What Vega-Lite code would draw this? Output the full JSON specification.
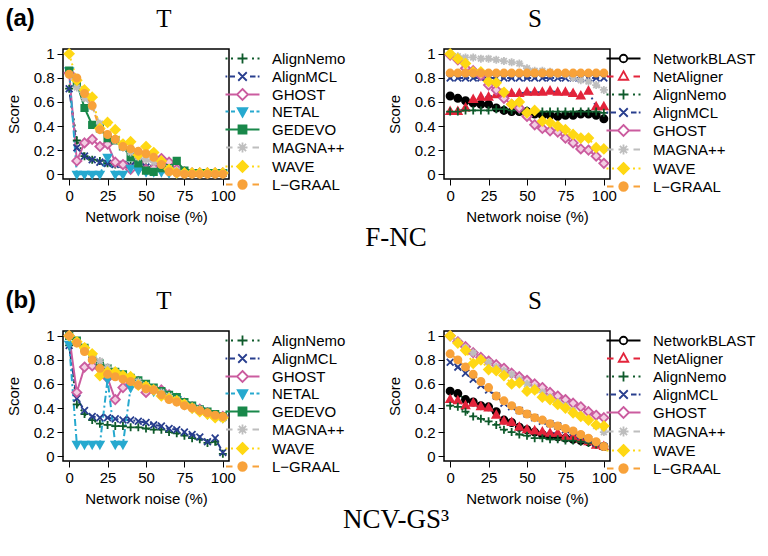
{
"$schema": "https://vega.github.io/schema/vega-lite/v6.json",
"background": "white",
"padding": 5,
"datasets": {
"aT": [
{"m":"AlignNemo","x":0,"y":0.71},{"m":"AlignNemo","x":5,"y":0.28},{"m":"AlignNemo","x":10,"y":0.15},{"m":"AlignNemo","x":15,"y":0.12},{"m":"AlignNemo","x":20,"y":0.11},{"m":"AlignNemo","x":25,"y":0.09},{"m":"AlignNemo","x":30,"y":0.08},{"m":"AlignNemo","x":35,"y":0.08},{"m":"AlignNemo","x":40,"y":0.07},{"m":"AlignNemo","x":45,"y":0.06},{"m":"AlignNemo","x":50,"y":0.06},{"m":"AlignNemo","x":55,"y":0.05},{"m":"AlignNemo","x":60,"y":0.04},{"m":"AlignNemo","x":65,"y":0.03},{"m":"AlignNemo","x":70,"y":0.02},{"m":"AlignNemo","x":75,"y":0.01},{"m":"AlignNemo","x":80,"y":0.01},{"m":"AlignNemo","x":85,"y":0.01},{"m":"AlignNemo","x":90,"y":0.01},{"m":"AlignNemo","x":95,"y":0.01},{"m":"AlignNemo","x":100,"y":0.01},
{"m":"AlignMCL","x":0,"y":0.71},{"m":"AlignMCL","x":5,"y":0.22},{"m":"AlignMCL","x":10,"y":0.15},{"m":"AlignMCL","x":15,"y":0.12},{"m":"AlignMCL","x":20,"y":0.10},{"m":"AlignMCL","x":25,"y":0.09},{"m":"AlignMCL","x":30,"y":0.08},{"m":"AlignMCL","x":35,"y":0.08},{"m":"AlignMCL","x":40,"y":0.07},{"m":"AlignMCL","x":45,"y":0.07},{"m":"AlignMCL","x":50,"y":0.06},{"m":"AlignMCL","x":55,"y":0.05},{"m":"AlignMCL","x":60,"y":0.05},{"m":"AlignMCL","x":65,"y":0.04},{"m":"AlignMCL","x":70,"y":0.03},{"m":"AlignMCL","x":75,"y":0.02},{"m":"AlignMCL","x":80,"y":0.01},{"m":"AlignMCL","x":85,"y":0.01},{"m":"AlignMCL","x":90,"y":0.01},{"m":"AlignMCL","x":95,"y":0.01},{"m":"AlignMCL","x":100,"y":0.01},
{"m":"GHOST","x":0,"y":0.84},{"m":"GHOST","x":5,"y":0.11},{"m":"GHOST","x":10,"y":0.26},{"m":"GHOST","x":15,"y":0.29},{"m":"GHOST","x":20,"y":0.23},{"m":"GHOST","x":25,"y":0.25},{"m":"GHOST","x":30,"y":0.10},{"m":"GHOST","x":35,"y":0.08},{"m":"GHOST","x":40,"y":0.04},{"m":"GHOST","x":45,"y":0.18},{"m":"GHOST","x":50,"y":0.04},{"m":"GHOST","x":55,"y":0.05},{"m":"GHOST","x":60,"y":0.13},{"m":"GHOST","x":65,"y":0.10},{"m":"GHOST","x":70,"y":0.04},{"m":"GHOST","x":75,"y":0.02},{"m":"GHOST","x":80,"y":0.01},{"m":"GHOST","x":85,"y":0.01},{"m":"GHOST","x":90,"y":0.01},{"m":"GHOST","x":95,"y":0.01},{"m":"GHOST","x":100,"y":0.01},
{"m":"NETAL","x":0,"y":0.86},{"m":"NETAL","x":5,"y":0.0},{"m":"NETAL","x":10,"y":0.0},{"m":"NETAL","x":15,"y":0.0},{"m":"NETAL","x":20,"y":0.0},{"m":"NETAL","x":25,"y":0.14},{"m":"NETAL","x":30,"y":0.0},{"m":"NETAL","x":35,"y":0.0},{"m":"NETAL","x":40,"y":0.05},{"m":"NETAL","x":45,"y":0.03},{"m":"NETAL","x":50,"y":0.02},{"m":"NETAL","x":55,"y":0.02},{"m":"NETAL","x":60,"y":0.02},{"m":"NETAL","x":65,"y":0.01},{"m":"NETAL","x":70,"y":0.01},{"m":"NETAL","x":75,"y":0.01},{"m":"NETAL","x":80,"y":0.01},{"m":"NETAL","x":85,"y":0.01},{"m":"NETAL","x":90,"y":0.01},{"m":"NETAL","x":95,"y":0.01},{"m":"NETAL","x":100,"y":0.01},
{"m":"GEDEVO","x":0,"y":0.86},{"m":"GEDEVO","x":5,"y":0.76},{"m":"GEDEVO","x":10,"y":0.55},{"m":"GEDEVO","x":15,"y":0.41},{"m":"GEDEVO","x":20,"y":0.38},{"m":"GEDEVO","x":25,"y":0.30},{"m":"GEDEVO","x":30,"y":0.28},{"m":"GEDEVO","x":35,"y":0.23},{"m":"GEDEVO","x":40,"y":0.14},{"m":"GEDEVO","x":45,"y":0.09},{"m":"GEDEVO","x":50,"y":0.03},{"m":"GEDEVO","x":55,"y":0.02},{"m":"GEDEVO","x":60,"y":0.05},{"m":"GEDEVO","x":65,"y":0.05},{"m":"GEDEVO","x":70,"y":0.11},{"m":"GEDEVO","x":75,"y":0.03},{"m":"GEDEVO","x":80,"y":0.01},{"m":"GEDEVO","x":85,"y":0.01},{"m":"GEDEVO","x":90,"y":0.01},{"m":"GEDEVO","x":95,"y":0.01},{"m":"GEDEVO","x":100,"y":0.01},
{"m":"MAGNA++","x":0,"y":0.83},{"m":"MAGNA++","x":5,"y":0.72},{"m":"MAGNA++","x":10,"y":0.63},{"m":"MAGNA++","x":15,"y":0.56},{"m":"MAGNA++","x":20,"y":0.42},{"m":"MAGNA++","x":25,"y":0.33},{"m":"MAGNA++","x":30,"y":0.28},{"m":"MAGNA++","x":35,"y":0.22},{"m":"MAGNA++","x":40,"y":0.18},{"m":"MAGNA++","x":45,"y":0.14},{"m":"MAGNA++","x":50,"y":0.12},{"m":"MAGNA++","x":55,"y":0.10},{"m":"MAGNA++","x":60,"y":0.08},{"m":"MAGNA++","x":65,"y":0.05},{"m":"MAGNA++","x":70,"y":0.03},{"m":"MAGNA++","x":75,"y":0.01},{"m":"MAGNA++","x":80,"y":0.01},{"m":"MAGNA++","x":85,"y":0.01},{"m":"MAGNA++","x":90,"y":0.01},{"m":"MAGNA++","x":95,"y":0.01},{"m":"MAGNA++","x":100,"y":0.01},
{"m":"WAVE","x":0,"y":1.0},{"m":"WAVE","x":5,"y":0.78},{"m":"WAVE","x":10,"y":0.70},{"m":"WAVE","x":15,"y":0.64},{"m":"WAVE","x":20,"y":0.38},{"m":"WAVE","x":25,"y":0.43},{"m":"WAVE","x":30,"y":0.37},{"m":"WAVE","x":35,"y":0.25},{"m":"WAVE","x":40,"y":0.27},{"m":"WAVE","x":45,"y":0.16},{"m":"WAVE","x":50,"y":0.23},{"m":"WAVE","x":55,"y":0.18},{"m":"WAVE","x":60,"y":0.11},{"m":"WAVE","x":65,"y":0.04},{"m":"WAVE","x":70,"y":0.01},{"m":"WAVE","x":75,"y":0.01},{"m":"WAVE","x":80,"y":0.01},{"m":"WAVE","x":85,"y":0.01},{"m":"WAVE","x":90,"y":0.01},{"m":"WAVE","x":95,"y":0.01},{"m":"WAVE","x":100,"y":0.01},
{"m":"L−GRAAL","x":0,"y":0.83},{"m":"L−GRAAL","x":5,"y":0.80},{"m":"L−GRAAL","x":10,"y":0.67},{"m":"L−GRAAL","x":15,"y":0.57},{"m":"L−GRAAL","x":20,"y":0.37},{"m":"L−GRAAL","x":25,"y":0.33},{"m":"L−GRAAL","x":30,"y":0.29},{"m":"L−GRAAL","x":35,"y":0.23},{"m":"L−GRAAL","x":40,"y":0.21},{"m":"L−GRAAL","x":45,"y":0.19},{"m":"L−GRAAL","x":50,"y":0.17},{"m":"L−GRAAL","x":55,"y":0.14},{"m":"L−GRAAL","x":60,"y":0.08},{"m":"L−GRAAL","x":65,"y":0.02},{"m":"L−GRAAL","x":70,"y":0.01},{"m":"L−GRAAL","x":75,"y":0.0},{"m":"L−GRAAL","x":80,"y":0.0},{"m":"L−GRAAL","x":85,"y":0.0},{"m":"L−GRAAL","x":90,"y":0.0},{"m":"L−GRAAL","x":95,"y":0.0},{"m":"L−GRAAL","x":100,"y":0.0}
],
"aS": [
{"m":"NetworkBLAST","x":0,"y":0.65},{"m":"NetworkBLAST","x":5,"y":0.63},{"m":"NetworkBLAST","x":10,"y":0.61},{"m":"NetworkBLAST","x":15,"y":0.59},{"m":"NetworkBLAST","x":20,"y":0.58},{"m":"NetworkBLAST","x":25,"y":0.58},{"m":"NetworkBLAST","x":30,"y":0.55},{"m":"NetworkBLAST","x":35,"y":0.53},{"m":"NetworkBLAST","x":40,"y":0.52},{"m":"NetworkBLAST","x":45,"y":0.52},{"m":"NetworkBLAST","x":50,"y":0.52},{"m":"NetworkBLAST","x":55,"y":0.50},{"m":"NetworkBLAST","x":60,"y":0.49},{"m":"NetworkBLAST","x":65,"y":0.49},{"m":"NetworkBLAST","x":70,"y":0.48},{"m":"NetworkBLAST","x":75,"y":0.49},{"m":"NetworkBLAST","x":80,"y":0.49},{"m":"NetworkBLAST","x":85,"y":0.50},{"m":"NetworkBLAST","x":90,"y":0.50},{"m":"NetworkBLAST","x":95,"y":0.49},{"m":"NetworkBLAST","x":100,"y":0.46},
{"m":"NetAligner","x":0,"y":0.52},{"m":"NetAligner","x":5,"y":0.52},{"m":"NetAligner","x":10,"y":0.55},{"m":"NetAligner","x":15,"y":0.62},{"m":"NetAligner","x":20,"y":0.64},{"m":"NetAligner","x":25,"y":0.64},{"m":"NetAligner","x":30,"y":0.66},{"m":"NetAligner","x":35,"y":0.66},{"m":"NetAligner","x":40,"y":0.67},{"m":"NetAligner","x":45,"y":0.67},{"m":"NetAligner","x":50,"y":0.68},{"m":"NetAligner","x":55,"y":0.68},{"m":"NetAligner","x":60,"y":0.68},{"m":"NetAligner","x":65,"y":0.69},{"m":"NetAligner","x":70,"y":0.68},{"m":"NetAligner","x":75,"y":0.68},{"m":"NetAligner","x":80,"y":0.67},{"m":"NetAligner","x":85,"y":0.65},{"m":"NetAligner","x":90,"y":0.69},{"m":"NetAligner","x":95,"y":0.56},{"m":"NetAligner","x":100,"y":0.56},
{"m":"AlignNemo","x":0,"y":0.52},{"m":"AlignNemo","x":5,"y":0.52},{"m":"AlignNemo","x":10,"y":0.53},{"m":"AlignNemo","x":15,"y":0.53},{"m":"AlignNemo","x":20,"y":0.53},{"m":"AlignNemo","x":25,"y":0.53},{"m":"AlignNemo","x":30,"y":0.54},{"m":"AlignNemo","x":35,"y":0.54},{"m":"AlignNemo","x":40,"y":0.53},{"m":"AlignNemo","x":45,"y":0.53},{"m":"AlignNemo","x":50,"y":0.53},{"m":"AlignNemo","x":55,"y":0.52},{"m":"AlignNemo","x":60,"y":0.52},{"m":"AlignNemo","x":65,"y":0.52},{"m":"AlignNemo","x":70,"y":0.52},{"m":"AlignNemo","x":75,"y":0.52},{"m":"AlignNemo","x":80,"y":0.52},{"m":"AlignNemo","x":85,"y":0.52},{"m":"AlignNemo","x":90,"y":0.52},{"m":"AlignNemo","x":95,"y":0.52},{"m":"AlignNemo","x":100,"y":0.51},
{"m":"AlignMCL","x":0,"y":0.80},{"m":"AlignMCL","x":5,"y":0.80},{"m":"AlignMCL","x":10,"y":0.80},{"m":"AlignMCL","x":15,"y":0.80},{"m":"AlignMCL","x":20,"y":0.80},{"m":"AlignMCL","x":25,"y":0.80},{"m":"AlignMCL","x":30,"y":0.80},{"m":"AlignMCL","x":35,"y":0.80},{"m":"AlignMCL","x":40,"y":0.80},{"m":"AlignMCL","x":45,"y":0.80},{"m":"AlignMCL","x":50,"y":0.80},{"m":"AlignMCL","x":55,"y":0.80},{"m":"AlignMCL","x":60,"y":0.80},{"m":"AlignMCL","x":65,"y":0.80},{"m":"AlignMCL","x":70,"y":0.80},{"m":"AlignMCL","x":75,"y":0.80},{"m":"AlignMCL","x":80,"y":0.80},{"m":"AlignMCL","x":85,"y":0.80},{"m":"AlignMCL","x":90,"y":0.80},{"m":"AlignMCL","x":95,"y":0.80},{"m":"AlignMCL","x":100,"y":0.80},
{"m":"GHOST","x":0,"y":0.99},{"m":"GHOST","x":5,"y":0.95},{"m":"GHOST","x":10,"y":0.88},{"m":"GHOST","x":15,"y":0.86},{"m":"GHOST","x":20,"y":0.82},{"m":"GHOST","x":25,"y":0.74},{"m":"GHOST","x":30,"y":0.70},{"m":"GHOST","x":35,"y":0.63},{"m":"GHOST","x":40,"y":0.58},{"m":"GHOST","x":45,"y":0.55},{"m":"GHOST","x":50,"y":0.48},{"m":"GHOST","x":55,"y":0.41},{"m":"GHOST","x":60,"y":0.38},{"m":"GHOST","x":65,"y":0.36},{"m":"GHOST","x":70,"y":0.35},{"m":"GHOST","x":75,"y":0.30},{"m":"GHOST","x":80,"y":0.26},{"m":"GHOST","x":85,"y":0.21},{"m":"GHOST","x":90,"y":0.20},{"m":"GHOST","x":95,"y":0.15},{"m":"GHOST","x":100,"y":0.09},
{"m":"MAGNA++","x":0,"y":1.0},{"m":"MAGNA++","x":5,"y":0.98},{"m":"MAGNA++","x":10,"y":0.97},{"m":"MAGNA++","x":15,"y":0.97},{"m":"MAGNA++","x":20,"y":0.96},{"m":"MAGNA++","x":25,"y":0.96},{"m":"MAGNA++","x":30,"y":0.95},{"m":"MAGNA++","x":35,"y":0.94},{"m":"MAGNA++","x":40,"y":0.93},{"m":"MAGNA++","x":45,"y":0.92},{"m":"MAGNA++","x":50,"y":0.88},{"m":"MAGNA++","x":55,"y":0.86},{"m":"MAGNA++","x":60,"y":0.86},{"m":"MAGNA++","x":65,"y":0.85},{"m":"MAGNA++","x":70,"y":0.83},{"m":"MAGNA++","x":75,"y":0.83},{"m":"MAGNA++","x":80,"y":0.80},{"m":"MAGNA++","x":85,"y":0.78},{"m":"MAGNA++","x":90,"y":0.77},{"m":"MAGNA++","x":95,"y":0.74},{"m":"MAGNA++","x":100,"y":0.70},
{"m":"WAVE","x":0,"y":1.0},{"m":"WAVE","x":5,"y":0.96},{"m":"WAVE","x":10,"y":0.92},{"m":"WAVE","x":15,"y":0.85},{"m":"WAVE","x":20,"y":0.85},{"m":"WAVE","x":25,"y":0.77},{"m":"WAVE","x":30,"y":0.76},{"m":"WAVE","x":35,"y":0.68},{"m":"WAVE","x":40,"y":0.58},{"m":"WAVE","x":45,"y":0.60},{"m":"WAVE","x":50,"y":0.51},{"m":"WAVE","x":55,"y":0.53},{"m":"WAVE","x":60,"y":0.44},{"m":"WAVE","x":65,"y":0.43},{"m":"WAVE","x":70,"y":0.40},{"m":"WAVE","x":75,"y":0.37},{"m":"WAVE","x":80,"y":0.33},{"m":"WAVE","x":85,"y":0.30},{"m":"WAVE","x":90,"y":0.30},{"m":"WAVE","x":95,"y":0.22},{"m":"WAVE","x":100,"y":0.21},
{"m":"L−GRAAL","x":0,"y":0.84},{"m":"L−GRAAL","x":5,"y":0.84},{"m":"L−GRAAL","x":10,"y":0.84},{"m":"L−GRAAL","x":15,"y":0.84},{"m":"L−GRAAL","x":20,"y":0.84},{"m":"L−GRAAL","x":25,"y":0.84},{"m":"L−GRAAL","x":30,"y":0.84},{"m":"L−GRAAL","x":35,"y":0.84},{"m":"L−GRAAL","x":40,"y":0.84},{"m":"L−GRAAL","x":45,"y":0.84},{"m":"L−GRAAL","x":50,"y":0.84},{"m":"L−GRAAL","x":55,"y":0.84},{"m":"L−GRAAL","x":60,"y":0.84},{"m":"L−GRAAL","x":65,"y":0.84},{"m":"L−GRAAL","x":70,"y":0.84},{"m":"L−GRAAL","x":75,"y":0.84},{"m":"L−GRAAL","x":80,"y":0.84},{"m":"L−GRAAL","x":85,"y":0.84},{"m":"L−GRAAL","x":90,"y":0.84},{"m":"L−GRAAL","x":95,"y":0.84},{"m":"L−GRAAL","x":100,"y":0.84}
],
"bT": [
{"m":"AlignNemo","x":0,"y":0.92},{"m":"AlignNemo","x":5,"y":0.43},{"m":"AlignNemo","x":10,"y":0.35},{"m":"AlignNemo","x":15,"y":0.30},{"m":"AlignNemo","x":20,"y":0.27},{"m":"AlignNemo","x":25,"y":0.26},{"m":"AlignNemo","x":30,"y":0.25},{"m":"AlignNemo","x":35,"y":0.25},{"m":"AlignNemo","x":40,"y":0.24},{"m":"AlignNemo","x":45,"y":0.24},{"m":"AlignNemo","x":50,"y":0.23},{"m":"AlignNemo","x":55,"y":0.22},{"m":"AlignNemo","x":60,"y":0.22},{"m":"AlignNemo","x":65,"y":0.20},{"m":"AlignNemo","x":70,"y":0.19},{"m":"AlignNemo","x":75,"y":0.17},{"m":"AlignNemo","x":80,"y":0.15},{"m":"AlignNemo","x":85,"y":0.14},{"m":"AlignNemo","x":90,"y":0.11},{"m":"AlignNemo","x":95,"y":0.12},{"m":"AlignNemo","x":100,"y":0.02},
{"m":"AlignMCL","x":0,"y":0.92},{"m":"AlignMCL","x":5,"y":0.48},{"m":"AlignMCL","x":10,"y":0.38},{"m":"AlignMCL","x":15,"y":0.33},{"m":"AlignMCL","x":20,"y":0.32},{"m":"AlignMCL","x":25,"y":0.32},{"m":"AlignMCL","x":30,"y":0.31},{"m":"AlignMCL","x":35,"y":0.30},{"m":"AlignMCL","x":40,"y":0.30},{"m":"AlignMCL","x":45,"y":0.29},{"m":"AlignMCL","x":50,"y":0.28},{"m":"AlignMCL","x":55,"y":0.26},{"m":"AlignMCL","x":60,"y":0.25},{"m":"AlignMCL","x":65,"y":0.23},{"m":"AlignMCL","x":70,"y":0.22},{"m":"AlignMCL","x":75,"y":0.20},{"m":"AlignMCL","x":80,"y":0.18},{"m":"AlignMCL","x":85,"y":0.16},{"m":"AlignMCL","x":90,"y":0.12},{"m":"AlignMCL","x":95,"y":0.15},{"m":"AlignMCL","x":100,"y":0.03},
{"m":"GHOST","x":0,"y":1.0},{"m":"GHOST","x":5,"y":0.53},{"m":"GHOST","x":10,"y":0.74},{"m":"GHOST","x":15,"y":0.75},{"m":"GHOST","x":20,"y":0.73},{"m":"GHOST","x":25,"y":0.65},{"m":"GHOST","x":30,"y":0.47},{"m":"GHOST","x":35,"y":0.57},{"m":"GHOST","x":40,"y":0.60},{"m":"GHOST","x":45,"y":0.62},{"m":"GHOST","x":50,"y":0.53},{"m":"GHOST","x":55,"y":0.55},{"m":"GHOST","x":60,"y":0.55},{"m":"GHOST","x":65,"y":0.51},{"m":"GHOST","x":70,"y":0.48},{"m":"GHOST","x":75,"y":0.44},{"m":"GHOST","x":80,"y":0.41},{"m":"GHOST","x":85,"y":0.39},{"m":"GHOST","x":90,"y":0.36},{"m":"GHOST","x":95,"y":0.33},{"m":"GHOST","x":100,"y":0.33},
{"m":"NETAL","x":0,"y":0.93},{"m":"NETAL","x":5,"y":0.10},{"m":"NETAL","x":10,"y":0.10},{"m":"NETAL","x":15,"y":0.10},{"m":"NETAL","x":20,"y":0.10},{"m":"NETAL","x":25,"y":0.64},{"m":"NETAL","x":30,"y":0.10},{"m":"NETAL","x":35,"y":0.10},{"m":"NETAL","x":40,"y":0.57},{"m":"NETAL","x":45,"y":0.60},{"m":"NETAL","x":50,"y":0.57},{"m":"NETAL","x":55,"y":0.54},{"m":"NETAL","x":60,"y":0.52},{"m":"NETAL","x":65,"y":0.49},{"m":"NETAL","x":70,"y":0.47},{"m":"NETAL","x":75,"y":0.43},{"m":"NETAL","x":80,"y":0.40},{"m":"NETAL","x":85,"y":0.38},{"m":"NETAL","x":90,"y":0.35},{"m":"NETAL","x":95,"y":0.33},{"m":"NETAL","x":100,"y":0.32},
{"m":"GEDEVO","x":0,"y":1.0},{"m":"GEDEVO","x":5,"y":0.96},{"m":"GEDEVO","x":10,"y":0.90},{"m":"GEDEVO","x":15,"y":0.82},{"m":"GEDEVO","x":20,"y":0.77},{"m":"GEDEVO","x":25,"y":0.73},{"m":"GEDEVO","x":30,"y":0.70},{"m":"GEDEVO","x":35,"y":0.68},{"m":"GEDEVO","x":40,"y":0.65},{"m":"GEDEVO","x":45,"y":0.63},{"m":"GEDEVO","x":50,"y":0.60},{"m":"GEDEVO","x":55,"y":0.57},{"m":"GEDEVO","x":60,"y":0.54},{"m":"GEDEVO","x":65,"y":0.51},{"m":"GEDEVO","x":70,"y":0.49},{"m":"GEDEVO","x":75,"y":0.45},{"m":"GEDEVO","x":80,"y":0.42},{"m":"GEDEVO","x":85,"y":0.39},{"m":"GEDEVO","x":90,"y":0.37},{"m":"GEDEVO","x":95,"y":0.35},{"m":"GEDEVO","x":100,"y":0.33},
{"m":"MAGNA++","x":0,"y":1.0},{"m":"MAGNA++","x":5,"y":0.95},{"m":"MAGNA++","x":10,"y":0.88},{"m":"MAGNA++","x":15,"y":0.83},{"m":"MAGNA++","x":20,"y":0.79},{"m":"MAGNA++","x":25,"y":0.74},{"m":"MAGNA++","x":30,"y":0.70},{"m":"MAGNA++","x":35,"y":0.67},{"m":"MAGNA++","x":40,"y":0.64},{"m":"MAGNA++","x":45,"y":0.62},{"m":"MAGNA++","x":50,"y":0.59},{"m":"MAGNA++","x":55,"y":0.56},{"m":"MAGNA++","x":60,"y":0.53},{"m":"MAGNA++","x":65,"y":0.50},{"m":"MAGNA++","x":70,"y":0.47},{"m":"MAGNA++","x":75,"y":0.44},{"m":"MAGNA++","x":80,"y":0.41},{"m":"MAGNA++","x":85,"y":0.39},{"m":"MAGNA++","x":90,"y":0.36},{"m":"MAGNA++","x":95,"y":0.33},{"m":"MAGNA++","x":100,"y":0.31},
{"m":"WAVE","x":0,"y":1.0},{"m":"WAVE","x":5,"y":0.95},{"m":"WAVE","x":10,"y":0.90},{"m":"WAVE","x":15,"y":0.85},{"m":"WAVE","x":20,"y":0.67},{"m":"WAVE","x":25,"y":0.70},{"m":"WAVE","x":30,"y":0.70},{"m":"WAVE","x":35,"y":0.67},{"m":"WAVE","x":40,"y":0.66},{"m":"WAVE","x":45,"y":0.59},{"m":"WAVE","x":50,"y":0.58},{"m":"WAVE","x":55,"y":0.55},{"m":"WAVE","x":60,"y":0.50},{"m":"WAVE","x":65,"y":0.48},{"m":"WAVE","x":70,"y":0.46},{"m":"WAVE","x":75,"y":0.43},{"m":"WAVE","x":80,"y":0.40},{"m":"WAVE","x":85,"y":0.37},{"m":"WAVE","x":90,"y":0.35},{"m":"WAVE","x":95,"y":0.32},{"m":"WAVE","x":100,"y":0.32},
{"m":"L−GRAAL","x":0,"y":1.0},{"m":"L−GRAAL","x":5,"y":0.94},{"m":"L−GRAAL","x":10,"y":0.87},{"m":"L−GRAAL","x":15,"y":0.80},{"m":"L−GRAAL","x":20,"y":0.73},{"m":"L−GRAAL","x":25,"y":0.68},{"m":"L−GRAAL","x":30,"y":0.66},{"m":"L−GRAAL","x":35,"y":0.64},{"m":"L−GRAAL","x":40,"y":0.62},{"m":"L−GRAAL","x":45,"y":0.59},{"m":"L−GRAAL","x":50,"y":0.56},{"m":"L−GRAAL","x":55,"y":0.55},{"m":"L−GRAAL","x":60,"y":0.51},{"m":"L−GRAAL","x":65,"y":0.47},{"m":"L−GRAAL","x":70,"y":0.45},{"m":"L−GRAAL","x":75,"y":0.42},{"m":"L−GRAAL","x":80,"y":0.40},{"m":"L−GRAAL","x":85,"y":0.38},{"m":"L−GRAAL","x":90,"y":0.36},{"m":"L−GRAAL","x":95,"y":0.34},{"m":"L−GRAAL","x":100,"y":0.33}
],
"bS": [
{"m":"NetworkBLAST","x":0,"y":0.54},{"m":"NetworkBLAST","x":5,"y":0.52},{"m":"NetworkBLAST","x":10,"y":0.47},{"m":"NetworkBLAST","x":15,"y":0.45},{"m":"NetworkBLAST","x":20,"y":0.42},{"m":"NetworkBLAST","x":25,"y":0.41},{"m":"NetworkBLAST","x":30,"y":0.37},{"m":"NetworkBLAST","x":35,"y":0.30},{"m":"NetworkBLAST","x":40,"y":0.28},{"m":"NetworkBLAST","x":45,"y":0.24},{"m":"NetworkBLAST","x":50,"y":0.22},{"m":"NetworkBLAST","x":55,"y":0.20},{"m":"NetworkBLAST","x":60,"y":0.18},{"m":"NetworkBLAST","x":65,"y":0.17},{"m":"NetworkBLAST","x":70,"y":0.16},{"m":"NetworkBLAST","x":75,"y":0.15},{"m":"NetworkBLAST","x":80,"y":0.14},{"m":"NetworkBLAST","x":85,"y":0.13},{"m":"NetworkBLAST","x":90,"y":0.12},{"m":"NetworkBLAST","x":95,"y":0.10},{"m":"NetworkBLAST","x":100,"y":0.08},
{"m":"NetAligner","x":0,"y":0.47},{"m":"NetAligner","x":5,"y":0.46},{"m":"NetAligner","x":10,"y":0.42},{"m":"NetAligner","x":15,"y":0.44},{"m":"NetAligner","x":20,"y":0.41},{"m":"NetAligner","x":25,"y":0.40},{"m":"NetAligner","x":30,"y":0.34},{"m":"NetAligner","x":35,"y":0.29},{"m":"NetAligner","x":40,"y":0.28},{"m":"NetAligner","x":45,"y":0.24},{"m":"NetAligner","x":50,"y":0.22},{"m":"NetAligner","x":55,"y":0.21},{"m":"NetAligner","x":60,"y":0.20},{"m":"NetAligner","x":65,"y":0.19},{"m":"NetAligner","x":70,"y":0.19},{"m":"NetAligner","x":75,"y":0.16},{"m":"NetAligner","x":80,"y":0.16},{"m":"NetAligner","x":85,"y":0.14},{"m":"NetAligner","x":90,"y":0.12},{"m":"NetAligner","x":95,"y":0.09},{"m":"NetAligner","x":100,"y":0.08},
{"m":"AlignNemo","x":0,"y":0.42},{"m":"AlignNemo","x":5,"y":0.41},{"m":"AlignNemo","x":10,"y":0.37},{"m":"AlignNemo","x":15,"y":0.33},{"m":"AlignNemo","x":20,"y":0.31},{"m":"AlignNemo","x":25,"y":0.29},{"m":"AlignNemo","x":30,"y":0.26},{"m":"AlignNemo","x":35,"y":0.22},{"m":"AlignNemo","x":40,"y":0.20},{"m":"AlignNemo","x":45,"y":0.18},{"m":"AlignNemo","x":50,"y":0.17},{"m":"AlignNemo","x":55,"y":0.15},{"m":"AlignNemo","x":60,"y":0.15},{"m":"AlignNemo","x":65,"y":0.14},{"m":"AlignNemo","x":70,"y":0.14},{"m":"AlignNemo","x":75,"y":0.13},{"m":"AlignNemo","x":80,"y":0.13},{"m":"AlignNemo","x":85,"y":0.12},{"m":"AlignNemo","x":90,"y":0.11},{"m":"AlignNemo","x":95,"y":0.10},{"m":"AlignNemo","x":100,"y":0.08},
{"m":"AlignMCL","x":0,"y":0.78},{"m":"AlignMCL","x":5,"y":0.74},{"m":"AlignMCL","x":10,"y":0.69},{"m":"AlignMCL","x":15,"y":0.64},{"m":"AlignMCL","x":20,"y":0.59},{"m":"AlignMCL","x":25,"y":0.55},{"m":"AlignMCL","x":30,"y":0.50},{"m":"AlignMCL","x":35,"y":0.44},{"m":"AlignMCL","x":40,"y":0.41},{"m":"AlignMCL","x":45,"y":0.38},{"m":"AlignMCL","x":50,"y":0.35},{"m":"AlignMCL","x":55,"y":0.32},{"m":"AlignMCL","x":60,"y":0.29},{"m":"AlignMCL","x":65,"y":0.27},{"m":"AlignMCL","x":70,"y":0.25},{"m":"AlignMCL","x":75,"y":0.22},{"m":"AlignMCL","x":80,"y":0.20},{"m":"AlignMCL","x":85,"y":0.17},{"m":"AlignMCL","x":90,"y":0.14},{"m":"AlignMCL","x":95,"y":0.11},{"m":"AlignMCL","x":100,"y":0.08},
{"m":"GHOST","x":0,"y":1.0},{"m":"GHOST","x":5,"y":0.95},{"m":"GHOST","x":10,"y":0.91},{"m":"GHOST","x":15,"y":0.86},{"m":"GHOST","x":20,"y":0.82},{"m":"GHOST","x":25,"y":0.79},{"m":"GHOST","x":30,"y":0.76},{"m":"GHOST","x":35,"y":0.73},{"m":"GHOST","x":40,"y":0.69},{"m":"GHOST","x":45,"y":0.66},{"m":"GHOST","x":50,"y":0.63},{"m":"GHOST","x":55,"y":0.60},{"m":"GHOST","x":60,"y":0.57},{"m":"GHOST","x":65,"y":0.53},{"m":"GHOST","x":70,"y":0.50},{"m":"GHOST","x":75,"y":0.47},{"m":"GHOST","x":80,"y":0.44},{"m":"GHOST","x":85,"y":0.41},{"m":"GHOST","x":90,"y":0.37},{"m":"GHOST","x":95,"y":0.34},{"m":"GHOST","x":100,"y":0.32},
{"m":"MAGNA++","x":0,"y":1.0},{"m":"MAGNA++","x":5,"y":0.95},{"m":"MAGNA++","x":10,"y":0.90},{"m":"MAGNA++","x":15,"y":0.86},{"m":"MAGNA++","x":20,"y":0.81},{"m":"MAGNA++","x":25,"y":0.78},{"m":"MAGNA++","x":30,"y":0.74},{"m":"MAGNA++","x":35,"y":0.71},{"m":"MAGNA++","x":40,"y":0.68},{"m":"MAGNA++","x":45,"y":0.64},{"m":"MAGNA++","x":50,"y":0.60},{"m":"MAGNA++","x":55,"y":0.57},{"m":"MAGNA++","x":60,"y":0.53},{"m":"MAGNA++","x":65,"y":0.49},{"m":"MAGNA++","x":70,"y":0.45},{"m":"MAGNA++","x":75,"y":0.42},{"m":"MAGNA++","x":80,"y":0.38},{"m":"MAGNA++","x":85,"y":0.34},{"m":"MAGNA++","x":90,"y":0.30},{"m":"MAGNA++","x":95,"y":0.25},{"m":"MAGNA++","x":100,"y":0.20},
{"m":"WAVE","x":0,"y":1.0},{"m":"WAVE","x":5,"y":0.94},{"m":"WAVE","x":10,"y":0.88},{"m":"WAVE","x":15,"y":0.77},{"m":"WAVE","x":20,"y":0.80},{"m":"WAVE","x":25,"y":0.72},{"m":"WAVE","x":30,"y":0.71},{"m":"WAVE","x":35,"y":0.67},{"m":"WAVE","x":40,"y":0.60},{"m":"WAVE","x":45,"y":0.61},{"m":"WAVE","x":50,"y":0.54},{"m":"WAVE","x":55,"y":0.55},{"m":"WAVE","x":60,"y":0.49},{"m":"WAVE","x":65,"y":0.47},{"m":"WAVE","x":70,"y":0.43},{"m":"WAVE","x":75,"y":0.40},{"m":"WAVE","x":80,"y":0.36},{"m":"WAVE","x":85,"y":0.33},{"m":"WAVE","x":90,"y":0.30},{"m":"WAVE","x":95,"y":0.26},{"m":"WAVE","x":100,"y":0.25},
{"m":"L−GRAAL","x":0,"y":0.85},{"m":"L−GRAAL","x":5,"y":0.80},{"m":"L−GRAAL","x":10,"y":0.74},{"m":"L−GRAAL","x":15,"y":0.68},{"m":"L−GRAAL","x":20,"y":0.62},{"m":"L−GRAAL","x":25,"y":0.57},{"m":"L−GRAAL","x":30,"y":0.50},{"m":"L−GRAAL","x":35,"y":0.46},{"m":"L−GRAAL","x":40,"y":0.42},{"m":"L−GRAAL","x":45,"y":0.38},{"m":"L−GRAAL","x":50,"y":0.35},{"m":"L−GRAAL","x":55,"y":0.32},{"m":"L−GRAAL","x":60,"y":0.30},{"m":"L−GRAAL","x":65,"y":0.27},{"m":"L−GRAAL","x":70,"y":0.25},{"m":"L−GRAAL","x":75,"y":0.23},{"m":"L−GRAAL","x":80,"y":0.21},{"m":"L−GRAAL","x":85,"y":0.18},{"m":"L−GRAAL","x":90,"y":0.15},{"m":"L−GRAAL","x":95,"y":0.12},{"m":"L−GRAAL","x":100,"y":0.08}
]
},
"spacing": 36,
"vconcat": [
{"title": {"text": "F-NC", "orient": "bottom", "anchor": "middle", "fontSize": 27, "offset": 0, "dx": 14},
 "vconcat": [
 {"title": {"text": "(a)", "anchor": "start", "frame": "bounds", "font": "Liberation Sans", "fontWeight": "bold", "fontSize": 24, "offset": -25},
  "spacing": 37,
  "hconcat": [
  {"width": 166, "height": 130, "title": {"text": "T", "dx": 18, "offset": 14}, "data": {"name": "aT"},
   "layer": [
    {"mark": {"type": "line", "strokeWidth": 2},
     "encoding": {
      "x": {"field": "x", "type": "quantitative", "scale": {"domain": [-4, 104], "nice": false, "zero": false}, "axis": {"values": [0, 25, 50, 75, 100], "tickCount": 10, "title": "Network noise (%)", "labelFlush": false, "labelOverlap": false, "labelPadding": 3, "titlePadding": 6}},
      "y": {"field": "y", "type": "quantitative", "scale": {"domain": [-0.04, 1.04], "nice": false, "zero": false}, "axis": {"values": [0, 0.2, 0.4, 0.6, 0.8, 1], "tickCount": 10, "format": ".1~f", "title": "Score", "labelOverlap": false, "labelFlush": false, "labelPadding": 3, "titlePadding": 12}},
      "color": {"field": "m", "type": "nominal", "legend": null, "scale": {"domain": ["AlignNemo","AlignMCL","GHOST","NETAL","GEDEVO","MAGNA++","WAVE","L−GRAAL"], "range": ["#0E5A2B","#283E8E","#CB5C9F","#27A9CF","#19884A","#BEBEBE","#FFD814","#F8A23A"]}},
      "strokeDash": {"field": "m", "type": "nominal", "legend": null, "scale": {"domain": ["AlignNemo","AlignMCL","GHOST","NETAL","GEDEVO","MAGNA++","WAVE","L−GRAAL"], "range": [[2,4],[2,4,7,4],[1,0],[7,3,2,3],[1,0],[6,4],[2,3],[6,4]]}}
     }},
    {"mark": {"type": "point", "strokeWidth": 1.8, "size": 64, "opacity": 1},
     "encoding": {
      "x": {"field": "x", "type": "quantitative"},
      "y": {"field": "y", "type": "quantitative"},
      "shape": {"field": "m", "type": "nominal", "legend": null, "scale": {"domain": ["AlignNemo","AlignMCL","GHOST","NETAL","GEDEVO","MAGNA++","WAVE","L−GRAAL"], "range": ["M-1,0H1M0,-1V1","M-0.85,-0.85L0.85,0.85M-0.85,0.85L0.85,-0.85","M0,-1.15L1.15,0L0,1.15L-1.15,0Z","M0,1.05L0.95,-0.65L-0.95,-0.65Z","M-0.8,-0.8H0.8V0.8H-0.8Z","M-1,0H1M0,-1V1M-0.72,-0.72L0.72,0.72M-0.72,0.72L0.72,-0.72","M0,-1.15L1.15,0L0,1.15L-1.15,0Z","M-0.9,0A0.9,0.9,0,1,1,0.9,0A0.9,0.9,0,1,1,-0.9,0Z"]}},
      "stroke": {"field": "m", "type": "nominal", "legend": null, "scale": {"domain": ["AlignNemo","AlignMCL","GHOST","NETAL","GEDEVO","MAGNA++","WAVE","L−GRAAL"], "range": ["#0E5A2B","#283E8E","#CB5C9F","#27A9CF","#19884A","#BEBEBE","#FFD814","#F8A23A"]}},
      "fill": {"field": "m", "type": "nominal", "legend": null, "scale": {"domain": ["AlignNemo","AlignMCL","GHOST","NETAL","GEDEVO","MAGNA++","WAVE","L−GRAAL"], "range": ["transparent","transparent","#F3CDE2","#27A9CF","#19884A","transparent","#FFD814","#F8A23A"]}}
     }},
    {"transform": [{"filter": "false"}],
     "mark": {"type": "point", "strokeWidth": 1.8, "size": 100, "opacity": 1},
     "encoding": {
      "shape": {"field": "m", "type": "nominal", "legend": {"title": null, "orient": "none", "legendX": 170, "legendY": 0, "padding": 2, "symbolSize": 100, "symbolStrokeWidth": 1.8, "labelOffset": 22, "rowPadding": 0, "symbolOpacity": 1}, "scale": {"domain": ["AlignNemo","AlignMCL","GHOST","NETAL","GEDEVO","MAGNA++","WAVE","L−GRAAL"], "range": ["M-3.4,0H-3.0M-2.3,0H-1.9M1.9,0H2.3M3.0,0H3.4M-1,0H1M0,-1V1","M-3.4,0H-3.05M-2.6,0H-1.5M1.5,0H2.6M3.05,0H3.4M-0.85,-0.85L0.85,0.85M-0.85,0.85L0.85,-0.85","M-3.4,0H-1.15M1.15,0H3.4M0,-1.1L1.1,0L0,1.1L-1.1,0Z","M-3.4,0H-2.8M-2.3,0H-1.5M1.5,0H2.3M2.8,0H3.4M0,1.05L0.95,-0.65L-0.95,-0.65Z","M-3.4,0H-0.8M0.8,0H3.4M-0.8,-0.8H0.8V0.8H-0.8Z","M-3.3,0H-2.0M2.0,0H3.3M-1,0H1M0,-1V1M-0.72,-0.72L0.72,0.72M-0.72,0.72L0.72,-0.72","M-3.4,0H-3.0M-2.3,0H-1.9M1.9,0H2.3M3.0,0H3.4M0,-1.1L1.1,0L0,1.1L-1.1,0Z","M-3.3,0H-2.0M2.0,0H3.3M-0.85,0A0.85,0.85,0,1,1,0.85,0A0.85,0.85,0,1,1,-0.85,0Z"]}},
      "stroke": {"field": "m", "type": "nominal", "legend": {"title": null, "orient": "none", "legendX": 170, "legendY": 0, "padding": 2, "symbolSize": 100, "symbolStrokeWidth": 1.8, "labelOffset": 22, "rowPadding": 0, "symbolOpacity": 1}, "scale": {"domain": ["AlignNemo","AlignMCL","GHOST","NETAL","GEDEVO","MAGNA++","WAVE","L−GRAAL"], "range": ["#0E5A2B","#283E8E","#CB5C9F","#27A9CF","#19884A","#BEBEBE","#FFD814","#F8A23A"]}},
      "fill": {"field": "m", "type": "nominal", "legend": {"title": null, "orient": "none", "legendX": 170, "legendY": 0, "padding": 2, "symbolSize": 100, "symbolStrokeWidth": 1.8, "labelOffset": 22, "rowPadding": 0, "symbolOpacity": 1}, "scale": {"domain": ["AlignNemo","AlignMCL","GHOST","NETAL","GEDEVO","MAGNA++","WAVE","L−GRAAL"], "range": ["transparent","transparent","white","#27A9CF","#19884A","transparent","#FFD814","#F8A23A"]}}
     }}
   ],
   "resolve": {"scale": {"shape": "independent", "stroke": "independent", "fill": "independent"}}
  },
  {"width": 166, "height": 130, "title": {"text": "S", "dx": 8, "offset": 14}, "data": {"name": "aS"},
   "layer": [
    {"mark": {"type": "line", "strokeWidth": 2},
     "encoding": {
      "x": {"field": "x", "type": "quantitative", "scale": {"domain": [-4, 104], "nice": false, "zero": false}, "axis": {"values": [0, 25, 50, 75, 100], "tickCount": 10, "title": "Network noise (%)", "labelFlush": false, "labelOverlap": false, "labelPadding": 3, "titlePadding": 6}},
      "y": {"field": "y", "type": "quantitative", "scale": {"domain": [-0.04, 1.04], "nice": false, "zero": false}, "axis": {"values": [0, 0.2, 0.4, 0.6, 0.8, 1], "tickCount": 10, "format": ".1~f", "title": "Score", "labelOverlap": false, "labelFlush": false, "labelPadding": 3, "titlePadding": 12}},
      "color": {"field": "m", "type": "nominal", "legend": null, "scale": {"domain": ["NetworkBLAST","NetAligner","AlignNemo","AlignMCL","GHOST","MAGNA++","WAVE","L−GRAAL"], "range": ["#000000","#E3243B","#0E5A2B","#283E8E","#CB5C9F","#BEBEBE","#FFD814","#F8A23A"]}},
      "strokeDash": {"field": "m", "type": "nominal", "legend": null, "scale": {"domain": ["NetworkBLAST","NetAligner","AlignNemo","AlignMCL","GHOST","MAGNA++","WAVE","L−GRAAL"], "range": [[1,0],[6,4],[2,4],[2,4,7,4],[1,0],[6,4],[2,3],[6,4]]}}
     }},
    {"mark": {"type": "point", "strokeWidth": 1.8, "size": 64, "opacity": 1},
     "encoding": {
      "x": {"field": "x", "type": "quantitative"},
      "y": {"field": "y", "type": "quantitative"},
      "shape": {"field": "m", "type": "nominal", "legend": null, "scale": {"domain": ["NetworkBLAST","NetAligner","AlignNemo","AlignMCL","GHOST","MAGNA++","WAVE","L−GRAAL"], "range": ["M-0.9,0A0.9,0.9,0,1,1,0.9,0A0.9,0.9,0,1,1,-0.9,0Z","M0,-1.05L0.95,0.65L-0.95,0.65Z","M-1,0H1M0,-1V1","M-0.85,-0.85L0.85,0.85M-0.85,0.85L0.85,-0.85","M0,-1.15L1.15,0L0,1.15L-1.15,0Z","M-1,0H1M0,-1V1M-0.72,-0.72L0.72,0.72M-0.72,0.72L0.72,-0.72","M0,-1.15L1.15,0L0,1.15L-1.15,0Z","M-0.9,0A0.9,0.9,0,1,1,0.9,0A0.9,0.9,0,1,1,-0.9,0Z"]}},
      "stroke": {"field": "m", "type": "nominal", "legend": null, "scale": {"domain": ["NetworkBLAST","NetAligner","AlignNemo","AlignMCL","GHOST","MAGNA++","WAVE","L−GRAAL"], "range": ["#000000","#E3243B","#0E5A2B","#283E8E","#CB5C9F","#BEBEBE","#FFD814","#F8A23A"]}},
      "fill": {"field": "m", "type": "nominal", "legend": null, "scale": {"domain": ["NetworkBLAST","NetAligner","AlignNemo","AlignMCL","GHOST","MAGNA++","WAVE","L−GRAAL"], "range": ["#000000","#E3243B","transparent","transparent","#F3CDE2","transparent","#FFD814","#F8A23A"]}}
     }},
    {"transform": [{"filter": "false"}],
     "mark": {"type": "point", "strokeWidth": 1.8, "size": 100, "opacity": 1},
     "encoding": {
      "shape": {"field": "m", "type": "nominal", "legend": {"title": null, "orient": "none", "legendX": 170, "legendY": 0, "padding": 2, "symbolSize": 100, "symbolStrokeWidth": 1.8, "labelOffset": 22, "rowPadding": 0, "symbolOpacity": 1}, "scale": {"domain": ["NetworkBLAST","NetAligner","AlignNemo","AlignMCL","GHOST","MAGNA++","WAVE","L−GRAAL"], "range": ["M-3.4,0H-0.9M0.9,0H3.4M-0.75,0A0.75,0.75,0,1,1,0.75,0A0.75,0.75,0,1,1,-0.75,0Z","M-3.3,0H-2.0M2.0,0H3.3M0,-1.05L0.95,0.65L-0.95,0.65Z","M-3.4,0H-3.0M-2.3,0H-1.9M1.9,0H2.3M3.0,0H3.4M-1,0H1M0,-1V1","M-3.4,0H-3.05M-2.6,0H-1.5M1.5,0H2.6M3.05,0H3.4M-0.85,-0.85L0.85,0.85M-0.85,0.85L0.85,-0.85","M-3.4,0H-1.15M1.15,0H3.4M0,-1.1L1.1,0L0,1.1L-1.1,0Z","M-3.3,0H-2.0M2.0,0H3.3M-1,0H1M0,-1V1M-0.72,-0.72L0.72,0.72M-0.72,0.72L0.72,-0.72","M-3.4,0H-3.0M-2.3,0H-1.9M1.9,0H2.3M3.0,0H3.4M0,-1.1L1.1,0L0,1.1L-1.1,0Z","M-3.3,0H-2.0M2.0,0H3.3M-0.85,0A0.85,0.85,0,1,1,0.85,0A0.85,0.85,0,1,1,-0.85,0Z"]}},
      "stroke": {"field": "m", "type": "nominal", "legend": {"title": null, "orient": "none", "legendX": 170, "legendY": 0, "padding": 2, "symbolSize": 100, "symbolStrokeWidth": 1.8, "labelOffset": 22, "rowPadding": 0, "symbolOpacity": 1}, "scale": {"domain": ["NetworkBLAST","NetAligner","AlignNemo","AlignMCL","GHOST","MAGNA++","WAVE","L−GRAAL"], "range": ["#000000","#E3243B","#0E5A2B","#283E8E","#CB5C9F","#BEBEBE","#FFD814","#F8A23A"]}},
      "fill": {"field": "m", "type": "nominal", "legend": {"title": null, "orient": "none", "legendX": 170, "legendY": 0, "padding": 2, "symbolSize": 100, "symbolStrokeWidth": 1.8, "labelOffset": 22, "rowPadding": 0, "symbolOpacity": 1}, "scale": {"domain": ["NetworkBLAST","NetAligner","AlignNemo","AlignMCL","GHOST","MAGNA++","WAVE","L−GRAAL"], "range": ["white","white","transparent","transparent","white","transparent","#FFD814","#F8A23A"]}}
     }}
   ],
   "resolve": {"scale": {"shape": "independent", "stroke": "independent", "fill": "independent"}}
  }
  ]}
 ]},
{"title": {"text": "NCV-GS³", "orient": "bottom", "anchor": "middle", "fontSize": 27, "offset": 0, "dx": 14},
 "vconcat": [
 {"title": {"text": "(b)", "anchor": "start", "frame": "bounds", "font": "Liberation Sans", "fontWeight": "bold", "fontSize": 24, "offset": -25},
  "spacing": 37,
  "hconcat": [
  {"width": 166, "height": 130, "title": {"text": "T", "dx": 18, "offset": 14}, "data": {"name": "bT"},
   "layer": [
    {"mark": {"type": "line", "strokeWidth": 2},
     "encoding": {
      "x": {"field": "x", "type": "quantitative", "scale": {"domain": [-4, 104], "nice": false, "zero": false}, "axis": {"values": [0, 25, 50, 75, 100], "tickCount": 10, "title": "Network noise (%)", "labelFlush": false, "labelOverlap": false, "labelPadding": 3, "titlePadding": 6}},
      "y": {"field": "y", "type": "quantitative", "scale": {"domain": [-0.04, 1.04], "nice": false, "zero": false}, "axis": {"values": [0, 0.2, 0.4, 0.6, 0.8, 1], "tickCount": 10, "format": ".1~f", "title": "Score", "labelOverlap": false, "labelFlush": false, "labelPadding": 3, "titlePadding": 12}},
      "color": {"field": "m", "type": "nominal", "legend": null, "scale": {"domain": ["AlignNemo","AlignMCL","GHOST","NETAL","GEDEVO","MAGNA++","WAVE","L−GRAAL"], "range": ["#0E5A2B","#283E8E","#CB5C9F","#27A9CF","#19884A","#BEBEBE","#FFD814","#F8A23A"]}},
      "strokeDash": {"field": "m", "type": "nominal", "legend": null, "scale": {"domain": ["AlignNemo","AlignMCL","GHOST","NETAL","GEDEVO","MAGNA++","WAVE","L−GRAAL"], "range": [[2,4],[2,4,7,4],[1,0],[7,3,2,3],[1,0],[6,4],[2,3],[6,4]]}}
     }},
    {"mark": {"type": "point", "strokeWidth": 1.8, "size": 64, "opacity": 1},
     "encoding": {
      "x": {"field": "x", "type": "quantitative"},
      "y": {"field": "y", "type": "quantitative"},
      "shape": {"field": "m", "type": "nominal", "legend": null, "scale": {"domain": ["AlignNemo","AlignMCL","GHOST","NETAL","GEDEVO","MAGNA++","WAVE","L−GRAAL"], "range": ["M-1,0H1M0,-1V1","M-0.85,-0.85L0.85,0.85M-0.85,0.85L0.85,-0.85","M0,-1.15L1.15,0L0,1.15L-1.15,0Z","M0,1.05L0.95,-0.65L-0.95,-0.65Z","M-0.8,-0.8H0.8V0.8H-0.8Z","M-1,0H1M0,-1V1M-0.72,-0.72L0.72,0.72M-0.72,0.72L0.72,-0.72","M0,-1.15L1.15,0L0,1.15L-1.15,0Z","M-0.9,0A0.9,0.9,0,1,1,0.9,0A0.9,0.9,0,1,1,-0.9,0Z"]}},
      "stroke": {"field": "m", "type": "nominal", "legend": null, "scale": {"domain": ["AlignNemo","AlignMCL","GHOST","NETAL","GEDEVO","MAGNA++","WAVE","L−GRAAL"], "range": ["#0E5A2B","#283E8E","#CB5C9F","#27A9CF","#19884A","#BEBEBE","#FFD814","#F8A23A"]}},
      "fill": {"field": "m", "type": "nominal", "legend": null, "scale": {"domain": ["AlignNemo","AlignMCL","GHOST","NETAL","GEDEVO","MAGNA++","WAVE","L−GRAAL"], "range": ["transparent","transparent","#F3CDE2","#27A9CF","#19884A","transparent","#FFD814","#F8A23A"]}}
     }},
    {"transform": [{"filter": "false"}],
     "mark": {"type": "point", "strokeWidth": 1.8, "size": 100, "opacity": 1},
     "encoding": {
      "shape": {"field": "m", "type": "nominal", "legend": {"title": null, "orient": "none", "legendX": 170, "legendY": 0, "padding": 2, "symbolSize": 100, "symbolStrokeWidth": 1.8, "labelOffset": 22, "rowPadding": 0, "symbolOpacity": 1}, "scale": {"domain": ["AlignNemo","AlignMCL","GHOST","NETAL","GEDEVO","MAGNA++","WAVE","L−GRAAL"], "range": ["M-3.4,0H-3.0M-2.3,0H-1.9M1.9,0H2.3M3.0,0H3.4M-1,0H1M0,-1V1","M-3.4,0H-3.05M-2.6,0H-1.5M1.5,0H2.6M3.05,0H3.4M-0.85,-0.85L0.85,0.85M-0.85,0.85L0.85,-0.85","M-3.4,0H-1.15M1.15,0H3.4M0,-1.1L1.1,0L0,1.1L-1.1,0Z","M-3.4,0H-2.8M-2.3,0H-1.5M1.5,0H2.3M2.8,0H3.4M0,1.05L0.95,-0.65L-0.95,-0.65Z","M-3.4,0H-0.8M0.8,0H3.4M-0.8,-0.8H0.8V0.8H-0.8Z","M-3.3,0H-2.0M2.0,0H3.3M-1,0H1M0,-1V1M-0.72,-0.72L0.72,0.72M-0.72,0.72L0.72,-0.72","M-3.4,0H-3.0M-2.3,0H-1.9M1.9,0H2.3M3.0,0H3.4M0,-1.1L1.1,0L0,1.1L-1.1,0Z","M-3.3,0H-2.0M2.0,0H3.3M-0.85,0A0.85,0.85,0,1,1,0.85,0A0.85,0.85,0,1,1,-0.85,0Z"]}},
      "stroke": {"field": "m", "type": "nominal", "legend": {"title": null, "orient": "none", "legendX": 170, "legendY": 0, "padding": 2, "symbolSize": 100, "symbolStrokeWidth": 1.8, "labelOffset": 22, "rowPadding": 0, "symbolOpacity": 1}, "scale": {"domain": ["AlignNemo","AlignMCL","GHOST","NETAL","GEDEVO","MAGNA++","WAVE","L−GRAAL"], "range": ["#0E5A2B","#283E8E","#CB5C9F","#27A9CF","#19884A","#BEBEBE","#FFD814","#F8A23A"]}},
      "fill": {"field": "m", "type": "nominal", "legend": {"title": null, "orient": "none", "legendX": 170, "legendY": 0, "padding": 2, "symbolSize": 100, "symbolStrokeWidth": 1.8, "labelOffset": 22, "rowPadding": 0, "symbolOpacity": 1}, "scale": {"domain": ["AlignNemo","AlignMCL","GHOST","NETAL","GEDEVO","MAGNA++","WAVE","L−GRAAL"], "range": ["transparent","transparent","white","#27A9CF","#19884A","transparent","#FFD814","#F8A23A"]}}
     }}
   ],
   "resolve": {"scale": {"shape": "independent", "stroke": "independent", "fill": "independent"}}
  },
  {"width": 166, "height": 130, "title": {"text": "S", "dx": 8, "offset": 14}, "data": {"name": "bS"},
   "layer": [
    {"mark": {"type": "line", "strokeWidth": 2},
     "encoding": {
      "x": {"field": "x", "type": "quantitative", "scale": {"domain": [-4, 104], "nice": false, "zero": false}, "axis": {"values": [0, 25, 50, 75, 100], "tickCount": 10, "title": "Network noise (%)", "labelFlush": false, "labelOverlap": false, "labelPadding": 3, "titlePadding": 6}},
      "y": {"field": "y", "type": "quantitative", "scale": {"domain": [-0.04, 1.04], "nice": false, "zero": false}, "axis": {"values": [0, 0.2, 0.4, 0.6, 0.8, 1], "tickCount": 10, "format": ".1~f", "title": "Score", "labelOverlap": false, "labelFlush": false, "labelPadding": 3, "titlePadding": 12}},
      "color": {"field": "m", "type": "nominal", "legend": null, "scale": {"domain": ["NetworkBLAST","NetAligner","AlignNemo","AlignMCL","GHOST","MAGNA++","WAVE","L−GRAAL"], "range": ["#000000","#E3243B","#0E5A2B","#283E8E","#CB5C9F","#BEBEBE","#FFD814","#F8A23A"]}},
      "strokeDash": {"field": "m", "type": "nominal", "legend": null, "scale": {"domain": ["NetworkBLAST","NetAligner","AlignNemo","AlignMCL","GHOST","MAGNA++","WAVE","L−GRAAL"], "range": [[1,0],[6,4],[2,4],[2,4,7,4],[1,0],[6,4],[2,3],[6,4]]}}
     }},
    {"mark": {"type": "point", "strokeWidth": 1.8, "size": 64, "opacity": 1},
     "encoding": {
      "x": {"field": "x", "type": "quantitative"},
      "y": {"field": "y", "type": "quantitative"},
      "shape": {"field": "m", "type": "nominal", "legend": null, "scale": {"domain": ["NetworkBLAST","NetAligner","AlignNemo","AlignMCL","GHOST","MAGNA++","WAVE","L−GRAAL"], "range": ["M-0.9,0A0.9,0.9,0,1,1,0.9,0A0.9,0.9,0,1,1,-0.9,0Z","M0,-1.05L0.95,0.65L-0.95,0.65Z","M-1,0H1M0,-1V1","M-0.85,-0.85L0.85,0.85M-0.85,0.85L0.85,-0.85","M0,-1.15L1.15,0L0,1.15L-1.15,0Z","M-1,0H1M0,-1V1M-0.72,-0.72L0.72,0.72M-0.72,0.72L0.72,-0.72","M0,-1.15L1.15,0L0,1.15L-1.15,0Z","M-0.9,0A0.9,0.9,0,1,1,0.9,0A0.9,0.9,0,1,1,-0.9,0Z"]}},
      "stroke": {"field": "m", "type": "nominal", "legend": null, "scale": {"domain": ["NetworkBLAST","NetAligner","AlignNemo","AlignMCL","GHOST","MAGNA++","WAVE","L−GRAAL"], "range": ["#000000","#E3243B","#0E5A2B","#283E8E","#CB5C9F","#BEBEBE","#FFD814","#F8A23A"]}},
      "fill": {"field": "m", "type": "nominal", "legend": null, "scale": {"domain": ["NetworkBLAST","NetAligner","AlignNemo","AlignMCL","GHOST","MAGNA++","WAVE","L−GRAAL"], "range": ["#000000","#E3243B","transparent","transparent","#F3CDE2","transparent","#FFD814","#F8A23A"]}}
     }},
    {"transform": [{"filter": "false"}],
     "mark": {"type": "point", "strokeWidth": 1.8, "size": 100, "opacity": 1},
     "encoding": {
      "shape": {"field": "m", "type": "nominal", "legend": {"title": null, "orient": "none", "legendX": 170, "legendY": 0, "padding": 2, "symbolSize": 100, "symbolStrokeWidth": 1.8, "labelOffset": 22, "rowPadding": 0, "symbolOpacity": 1}, "scale": {"domain": ["NetworkBLAST","NetAligner","AlignNemo","AlignMCL","GHOST","MAGNA++","WAVE","L−GRAAL"], "range": ["M-3.4,0H-0.9M0.9,0H3.4M-0.75,0A0.75,0.75,0,1,1,0.75,0A0.75,0.75,0,1,1,-0.75,0Z","M-3.3,0H-2.0M2.0,0H3.3M0,-1.05L0.95,0.65L-0.95,0.65Z","M-3.4,0H-3.0M-2.3,0H-1.9M1.9,0H2.3M3.0,0H3.4M-1,0H1M0,-1V1","M-3.4,0H-3.05M-2.6,0H-1.5M1.5,0H2.6M3.05,0H3.4M-0.85,-0.85L0.85,0.85M-0.85,0.85L0.85,-0.85","M-3.4,0H-1.15M1.15,0H3.4M0,-1.1L1.1,0L0,1.1L-1.1,0Z","M-3.3,0H-2.0M2.0,0H3.3M-1,0H1M0,-1V1M-0.72,-0.72L0.72,0.72M-0.72,0.72L0.72,-0.72","M-3.4,0H-3.0M-2.3,0H-1.9M1.9,0H2.3M3.0,0H3.4M0,-1.1L1.1,0L0,1.1L-1.1,0Z","M-3.3,0H-2.0M2.0,0H3.3M-0.85,0A0.85,0.85,0,1,1,0.85,0A0.85,0.85,0,1,1,-0.85,0Z"]}},
      "stroke": {"field": "m", "type": "nominal", "legend": {"title": null, "orient": "none", "legendX": 170, "legendY": 0, "padding": 2, "symbolSize": 100, "symbolStrokeWidth": 1.8, "labelOffset": 22, "rowPadding": 0, "symbolOpacity": 1}, "scale": {"domain": ["NetworkBLAST","NetAligner","AlignNemo","AlignMCL","GHOST","MAGNA++","WAVE","L−GRAAL"], "range": ["#000000","#E3243B","#0E5A2B","#283E8E","#CB5C9F","#BEBEBE","#FFD814","#F8A23A"]}},
      "fill": {"field": "m", "type": "nominal", "legend": {"title": null, "orient": "none", "legendX": 170, "legendY": 0, "padding": 2, "symbolSize": 100, "symbolStrokeWidth": 1.8, "labelOffset": 22, "rowPadding": 0, "symbolOpacity": 1}, "scale": {"domain": ["NetworkBLAST","NetAligner","AlignNemo","AlignMCL","GHOST","MAGNA++","WAVE","L−GRAAL"], "range": ["white","white","transparent","transparent","white","transparent","#FFD814","#F8A23A"]}}
     }}
   ],
   "resolve": {"scale": {"shape": "independent", "stroke": "independent", "fill": "independent"}}
  }
  ]}
 ]}
],
"config": {
 "font": "Liberation Sans",
 "view": {"stroke": "black", "strokeWidth": 1.5},
 "axis": {"grid": false, "domain": false, "tickColor": "black", "tickSize": 6, "tickWidth": 1, "labelFont": "Liberation Sans", "labelFontSize": 15, "labelColor": "black", "titleFont": "Liberation Sans", "titleFontSize": 15, "titleFontWeight": "normal", "titleColor": "black", "labelOverlap": false},
 "legend": {"labelFont": "Liberation Sans", "labelFontSize": 15, "labelColor": "black"},
 "title": {"font": "Liberation Serif", "fontSize": 25, "fontWeight": "normal", "color": "black"}
}
}
